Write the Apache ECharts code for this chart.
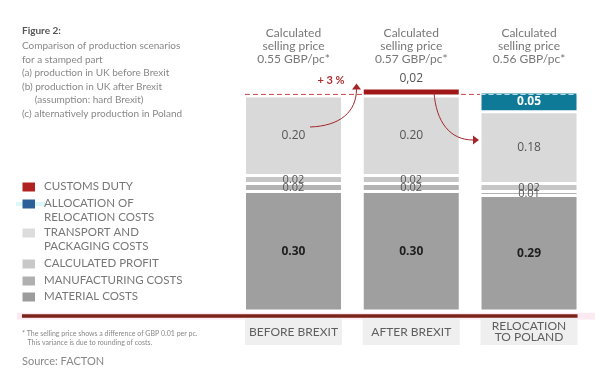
<!DOCTYPE html>
<html><head><meta charset="utf-8">
<script src="https://cdn.jsdelivr.net/npm/echarts@6/dist/echarts.min.js"></script>
<style>html,body{margin:0;padding:0;background:#fff}#c{width:600px;height:387px}</style>
</head><body><div id="c"></div>
<script>
const categories = ['BEFORE BREXIT', 'AFTER BREXIT', 'RELOCATION\nTO POLAND'];
const prices = ['0.55', '0.57', '0.56'];
const materialCosts = [0.30, 0.30, 0.29];
const manufacturingCosts = [0.02, 0.02, 0.01];
const calculatedProfit = [0.02, 0.02, 0.02];
const transportCosts = [0.20, 0.20, 0.18];
const relocationCosts = ['-', '-', 0.05];
const customsDuty = ['-', 0.02, '-'];
const referenceLevel = 0.54;
const legendNames = ['CUSTOMS DUTY', 'ALLOCATION OF\nRELOCATION COSTS', 'TRANSPORT AND\nPACKAGING COSTS', 'CALCULATED PROFIT', 'MANUFACTURING COSTS', 'MATERIAL COSTS'];
const titleLines = ['Comparison of production scenarios', 'for a stamped part', '(a) production in UK before Brexit', '(b) production in UK after Brexit', '     (assumption: hard Brexit)', '(c) alternatively production in Poland'];

const FONT = 'Lato, "Open Sans", sans-serif';
const LBL = '"Open Sans", sans-serif';
const colors = {
  material: '#9f9f9f', manufacturing: '#b3b3b3', profit: '#c6c6c6',
  transport: '#d9d9d9', relocation: '#0f7a98', customs: '#a01717'
};
const legendColors = ['#b0221f', '#2c5f97', '#dcdcdc', '#c8c8c8', '#b0b0b0', '#9c9c9c'];

const chart = echarts.init(document.getElementById('c'), null, {renderer: 'canvas'});

function fmt(p) { return (typeof p.value === 'number') ? p.value.toFixed(2) : ''; }

function barSeries(name, data, color, label) {
  return {
    name, type: 'bar', stack: 'total', data, barWidth: 98,
    itemStyle: {color, borderColor: '#fff', borderWidth: 1.5},
    label: Object.assign({show: true, position: 'inside', formatter: fmt, fontFamily: LBL, fontSize: 11, color: '#555'}, label || {})
  };
}

const xData = categories.map(c => c.indexOf('\n') >= 0
  ? {value: c, textStyle: {lineHeight: 10.5, padding: [3, 0, 3, 0]}}
  : c);

chart.setOption({
  animation: false,
  grid: {left: 234.6, right: 12.1, top: 72, bottom: 76},
  xAxis: {
    type: 'category', data: xData,
    axisLine: {show: false}, axisTick: {show: false},
    axisLabel: {
      interval: 0, margin: 7, backgroundColor: '#efefef', width: 97,
      padding: [8, 0, 7, 0], lineHeight: 12, fontSize: 12, color: '#5e5e5e',
      fontFamily: FONT, align: 'center'
    }
  },
  yAxis: {type: 'value', min: 0, max: 0.6, show: false},
  series: [
    barSeries('MATERIAL COSTS', materialCosts, colors.material, {fontWeight: 'bold', fontSize: 12, color: '#1e1e1e'}),
    barSeries('MANUFACTURING COSTS', manufacturingCosts, colors.manufacturing),
    barSeries('CALCULATED PROFIT', calculatedProfit, colors.profit),
    barSeries('TRANSPORT AND PACKAGING COSTS', transportCosts, colors.transport, {fontSize: 12}),
    barSeries('ALLOCATION OF RELOCATION COSTS', relocationCosts, colors.relocation, {fontWeight: 'bold', fontSize: 12, color: '#fff'}),
    barSeries('CUSTOMS DUTY', customsDuty, colors.customs, {position: 'top', distance: 3, fontSize: 12, color: '#555',
      formatter: p => (typeof p.value === 'number') ? p.value.toFixed(2).replace('.', ',') : ''})
  ]
});

// annotations
const cx = categories.map((c, i) => chart.convertToPixel({xAxisIndex: 0}, i));
const yRef = chart.convertToPixel({yAxisIndex: 0}, referenceLevel) - 1.5;
const yBase = chart.convertToPixel({yAxisIndex: 0}, 0);
const half = 48.5;
const g = [];

// left title
g.push({type: 'text', left: 22, top: 26, style: {text: 'Figure 2:', font: 'bold 10px ' + FONT, fill: '#555'}});
titleLines.forEach((t, i) => g.push({type: 'text', left: 22, top: 41 + i * 13.5, style: {text: t, font: '10px ' + FONT, fill: '#888'}}));

// header above each bar
prices.forEach((p, i) => {
  g.push({type: 'text', x: cx[i], y: 27, style: {text: 'Calculated\nselling price\n' + p + ' GBP/pc*', font: '12px ' + FONT, fill: '#777', align: 'center', verticalAlign: 'top', lineHeight: 13}});
});

// legend
const legendY = [187, 204, 233, 264, 281, 297];
g.push({type: 'rect', shape: {x: 16, y: 202, width: 29, height: 4}, style: {fill: '#dcf7f9'}});
legendNames.forEach((n, i) => {
  g.push({type: 'rect', shape: {x: 22.5, y: legendY[i] - 4.5, width: 12.5, height: 9}, style: {fill: legendColors[i]}});
  g.push({type: 'text', left: 44, top: legendY[i] - 7.3, style: {text: n, font: '11.5px ' + FONT, fill: '#777', lineHeight: 13.8}});
});

// baseline
g.push({type: 'rect', shape: {x: 17, y: yBase + 1.8, width: 578, height: 6.6}, style: {fill: '#fde9f1'}});
g.push({type: 'rect', shape: {x: 22, y: yBase + 3.2, width: cx[2] + half - 22, height: 3.6}, style: {fill: '#7b2317'}});

// dashed reference line
g.push({type: 'line', shape: {x1: cx[0] - half, y1: yRef, x2: cx[2] - half, y2: yRef}, style: {stroke: '#c0474a', lineWidth: 1, lineDash: [5, 3]}});
g.push({type: 'line', shape: {x1: cx[2] - half, y1: yRef, x2: cx[2] + half, y2: yRef}, style: {stroke: '#cfe6ee', lineWidth: 1, lineDash: [5, 3]}, z: 10});

// arrows
const ac = '#a3262a';
g.push({type: 'bezierCurve', shape: {x1: 310, y1: 127, cpx1: 340, cpy1: 126, cpx2: 356.5, cpy2: 112, x2: 356.5, y2: 89}, style: {stroke: ac, lineWidth: 1, fill: null}, z: 10});
g.push({type: 'polygon', shape: {points: [[356.5, 83.5], [352, 89.5], [361, 89.5]]}, style: {fill: ac}, z: 10});
g.push({type: 'text', x: 331, y: 80, style: {text: '+ 3 %', font: 'bold 11px ' + FONT, fill: '#b03032', align: 'center', verticalAlign: 'middle'}});
g.push({type: 'bezierCurve', shape: {x1: 434, y1: 92, cpx1: 436, cpy1: 122, cpx2: 450, cpy2: 140, x2: 473, y2: 140}, style: {stroke: ac, lineWidth: 1, fill: null}, z: 10});
g.push({type: 'polygon', shape: {points: [[479, 140], [473, 135.5], [473, 144.5]]}, style: {fill: ac}, z: 10});

// footnotes
g.push({type: 'text', left: 22, top: 330, style: {text: '* The selling price shows a difference of GBP 0.01 per pc.', font: '7px ' + FONT, fill: '#888'}});
g.push({type: 'text', left: 27.5, top: 339.5, style: {text: 'This variance is due to rounding of costs.', font: '7px ' + FONT, fill: '#888'}});
g.push({type: 'text', left: 22, top: 356, style: {text: 'Source: FACTON', font: '11px ' + FONT, fill: '#888'}});

chart.setOption({graphic: g});
</script></body></html>
